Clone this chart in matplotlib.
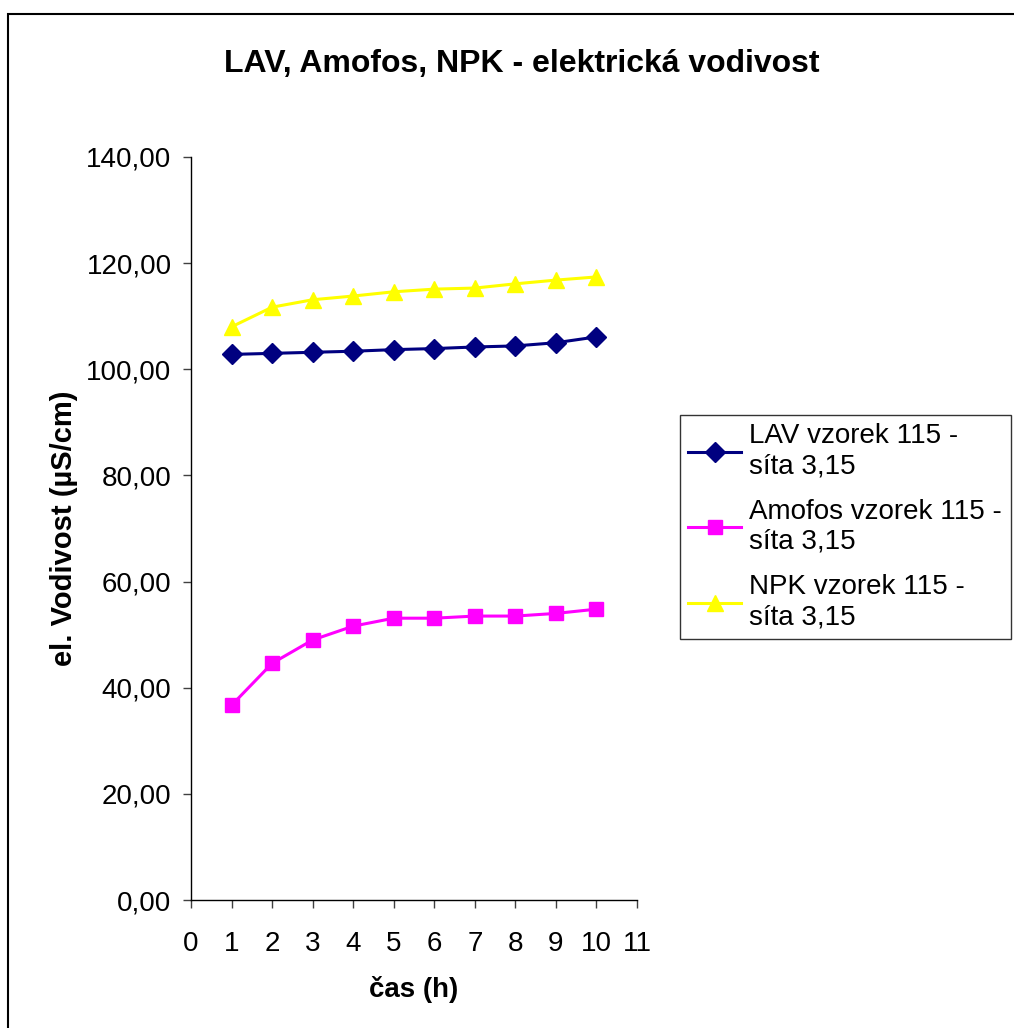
import matplotlib
matplotlib.use("Agg")
import matplotlib.pyplot as plt
from matplotlib.patches import Rectangle
from matplotlib.ticker import FuncFormatter

plt.rcParams["font.family"] = ["Liberation Sans", "DejaVu Sans"]

# ---- data ----
hours = [1, 2, 3, 4, 5, 6, 7, 8, 9, 10]
lav = [102.8, 103.0, 103.2, 103.4, 103.7, 103.9, 104.2, 104.4, 105.0, 106.1]
amofos = [36.7, 44.6, 49.0, 51.6, 53.1, 53.1, 53.5, 53.5, 54.0, 54.8]
npk = [108.0, 111.7, 113.1, 113.8, 114.6, 115.1, 115.3, 116.1, 116.8, 117.4]

labels = [
    "LAV vzorek 115 -\nsíta 3,15",
    "Amofos vzorek 115 -\nsíta 3,15",
    "NPK vzorek 115 -\nsíta 3,15",
]
x_ticks = list(range(0, 12))
y_ticks = [0, 20, 40, 60, 80, 100, 120, 140]

fig = plt.figure(figsize=(10.14, 10.28), dpi=100)
ax = fig.add_axes([0.1884, 0.1245, 0.4398, 0.7228])

ax.plot(hours, lav, color="#000080", linewidth=2.2, marker="D", markersize=10,
        label=labels[0])
ax.plot(hours, amofos, color="#FF00FF", linewidth=2.2, marker="s", markersize=10,
        label=labels[1])
ax.plot(hours, npk, color="#FFFF00", linewidth=2.2, marker="^", markersize=11,
        label=labels[2])

ax.set_xlim(0, 11)
ax.set_ylim(0, 140)
ax.set_xticks(x_ticks)
ax.set_yticks(y_ticks)
ax.yaxis.set_major_formatter(FuncFormatter(lambda v, p: f"{v:.2f}".replace(".", ",")))
ax.tick_params(axis="both", labelsize=20, direction="out", length=6, width=1,
               color="#404040")
ax.tick_params(axis="y", pad=8)
ax.tick_params(axis="x", pad=16)

for side in ("top", "right"):
    ax.spines[side].set_visible(False)
for side in ("left", "bottom"):
    ax.spines[side].set_color("black")
    ax.spines[side].set_linewidth(1)

ax.set_xlabel("čas (h)", fontsize=20, fontweight="bold", labelpad=14)
ax.set_ylabel("el. Vodivost (µS/cm)", fontsize=21, fontweight="bold", labelpad=6)

fig.text(0.5145, 0.938, "LAV, Amofos, NPK - elektrická vodivost",
         fontsize=23, fontweight="bold", ha="center", va="center")

leg = fig.legend(loc="upper left", bbox_to_anchor=(0.6706, 0.5963),
                 fontsize=20, frameon=True, fancybox=False, edgecolor="black",
                 handlelength=1.9, handletextpad=0.3, labelspacing=0.7,
                 borderpad=0.3, borderaxespad=0)
leg.get_frame().set_linewidth(1)

# chart area border
fig.patches.append(Rectangle((8 / 1014, -0.05), 1.2, 1.05 - 14 / 1028,
                             transform=fig.transFigure, fill=False,
                             edgecolor="black", linewidth=1.5))

fig.savefig("out.png", dpi=100)
